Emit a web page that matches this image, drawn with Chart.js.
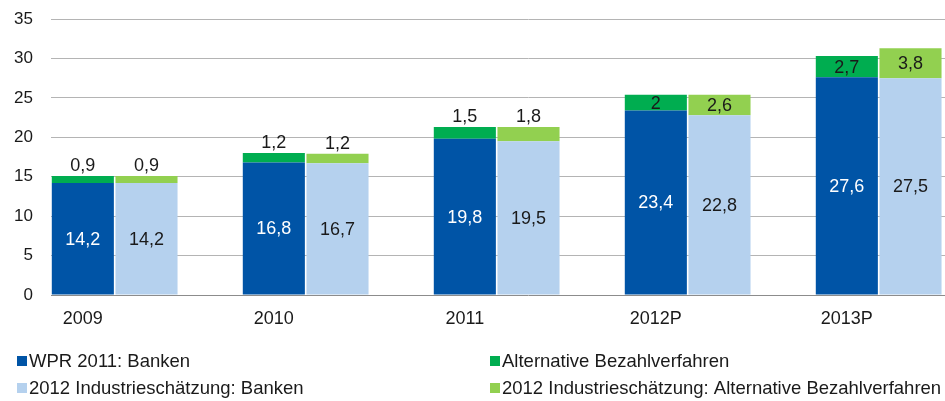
<!DOCTYPE html>
<html>
<head>
<meta charset="utf-8">
<script src="https://cdn.jsdelivr.net/npm/chart.js@4"></script>
<style>
  html, body { margin: 0; padding: 0; background: #fff; overflow: hidden; }
  #wrap { width: 945px; height: 401px; overflow: hidden; }
</style>
</head>
<body>
<div id="wrap"><canvas id="marketChart" width="1006" height="401"></canvas></div>
<script>
// categories and values (billions)
const years = ['2009', '2010', '2011', '2012P', '2013P'];
const wprBanks = [14.2, 16.8, 19.8, 23.4, 27.6];
const wprAlternative = [0.9, 1.2, 1.5, 2, 2.7];
const industryBanks = [14.2, 16.7, 19.5, 22.8, 27.5];
const industryAlternative = [0.9, 1.2, 1.8, 2.6, 3.8];
const yTicks = [0, 5, 10, 15, 20, 25, 30, 35];

const seriesLabels = [
  'WPR 2011: Banken',
  'Alternative Bezahlverfahren',
  '2012 Industrieschätzung: Banken',
  '2012 Industrieschätzung: Alternative Bezahlverfahren'
];
const seriesColors = ['#0054a6', '#00ad50', '#b5d1ee', '#92d050'];

const FONT = 'Liberation Sans, Arial, sans-serif';

// every year gets three slots: WPR bar, industry bar, empty gap
const slotLabels = [];
years.forEach(y => { slotLabels.push(y, '', ''); });

function toSlots(values, offset) {
  const out = [];
  values.forEach(v => {
    const row = [null, null, null];
    row[offset] = v;
    out.push(...row);
  });
  return out;
}

const fmt = v => String(v).replace('.', ',');

// value labels on the bars
const barLabels = {
  id: 'barLabels',
  afterDatasetsDraw(chart) {
    const ctx = chart.ctx;
    ctx.save();
    ctx.font = '18px ' + FONT;
    ctx.textAlign = 'center';
    ctx.textBaseline = 'middle';
    chart.data.datasets.forEach((ds, di) => {
      const meta = chart.getDatasetMeta(di);
      meta.data.forEach((bar, i) => {
        const v = ds.data[i];
        if (v === null) return;
        const p = bar.getProps(['x', 'y', 'base'], true);
        let y = (p.y + p.base) / 2;
        if (di % 2 === 1 && v < 1.9) y = p.y - 11;
        ctx.fillStyle = di === 0 ? '#ffffff' : '#1a1a1a';
        ctx.fillText(fmt(v), p.x, y + 1);
      });
    });
    ctx.restore();
  }
};

// two-column legend under the chart
const gridLegend = {
  id: 'gridLegend',
  afterDraw(chart) {
    const ctx = chart.ctx;
    const colX = [17, 490];
    const rowY = [361, 388];
    ctx.save();
    ctx.font = '18.5px ' + FONT;
    ctx.textBaseline = 'middle';
    ctx.textAlign = 'left';
    chart.data.datasets.forEach((ds, i) => {
      const x = colX[i % 2];
      const y = rowY[Math.floor(i / 2)];
      ctx.fillStyle = ds.backgroundColor;
      ctx.fillRect(x, y - 5, 10, 10);
      ctx.fillStyle = '#1a1a1a';
      ctx.fillText(ds.label, x + 12, y + 1);
    });
    ctx.restore();
  }
};

const ctx = document.getElementById('marketChart').getContext('2d');
const myChart = new Chart(ctx, {
  type: 'bar',
  data: {
    labels: slotLabels,
    datasets: [
      { label: seriesLabels[0], data: toSlots(wprBanks, 0), backgroundColor: seriesColors[0] },
      { label: seriesLabels[1], data: toSlots(wprAlternative, 0), backgroundColor: seriesColors[1] },
      { label: seriesLabels[2], data: toSlots(industryBanks, 1), backgroundColor: seriesColors[2] },
      { label: seriesLabels[3], data: toSlots(industryAlternative, 1), backgroundColor: seriesColors[3] }
    ]
  },
  options: {
    responsive: false,
    animation: false,
    devicePixelRatio: 1,
    layout: { padding: { top: 19, left: 0, right: 0, bottom: 0 } },
    datasets: { bar: { categoryPercentage: 1, barPercentage: 0.975, skipNull: true } },
    scales: {
      x: {
        stacked: true,
        grid: { display: false },
        border: { display: false },
        ticks: {
          autoSkip: false,
          maxRotation: 0,
          padding: 5,
          color: '#1a1a1a',
          font: { family: FONT, size: 18 }
        },
        afterFit(scale) { scale.height = 106; }
      },
      y: {
        stacked: true,
        min: 0,
        max: 35,
        afterBuildTicks(scale) { scale.ticks = yTicks.map(v => ({ value: v })); },
        grid: {
          drawTicks: false,
          color: c => (c.tick && c.tick.value === 0 ? '#8c8c8c' : '#b4b4b4'),
          lineWidth: 1
        },
        border: { display: false },
        ticks: {
          padding: 18,
          color: '#1a1a1a',
          font: { family: FONT, size: 17 }
        },
        afterFit(scale) {
          scale.width = 51;
          scale.paddingTop = 0;
          scale.paddingBottom = 0;
        }
      }
    },
    plugins: {
      legend: { display: false },
      tooltip: { enabled: false }
    }
  },
  plugins: [barLabels, gridLegend]
});
</script>
</body>
</html>
